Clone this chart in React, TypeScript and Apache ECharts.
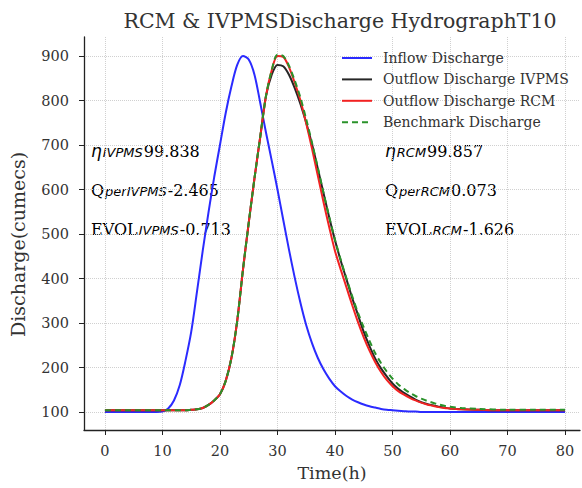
import React, { useEffect, useRef } from "react";
import * as echarts from "echarts";

const time = [
  0, 1, 2, 3, 4, 5, 6, 7, 8, 9,
  10, 11, 12, 13, 14, 15, 16, 17, 18, 19,
  20, 21, 22, 23, 24, 25, 26, 27, 28, 29,
  30, 31, 32, 33, 34, 35, 36, 37, 38, 39,
  40, 41, 42, 43, 44, 45, 46, 47, 48, 49,
  50, 51, 52, 53, 54, 55, 56, 57, 58, 59,
  60, 62, 65, 70, 75, 80,
];

const inflow = [
  100, 100, 100, 100, 100, 100, 100, 100, 100, 100,
  101, 108, 126, 160, 215, 280, 370, 462, 548, 628,
  700, 772, 832, 880, 900, 892, 858, 795, 728, 665,
  600, 532, 465, 402, 345, 295, 255, 222, 196, 175,
  158, 146, 136, 128, 122, 117, 113, 110, 107, 105,
  104, 103, 102, 101, 101, 100, 100, 100, 100, 100,
  100, 100, 100, 100, 100, 100,
];

const outflowIVPMS = [
  104, 104, 104, 104, 104, 104, 104, 104, 104, 104,
  104, 104, 104, 104, 104, 105, 106, 109, 116, 126,
  140, 170, 222, 305, 420, 525, 625, 718, 810, 858,
  880, 877, 858, 828, 792, 750, 702, 648, 592, 537,
  486, 440, 398, 356, 318, 280, 248, 220, 198, 180,
  164, 152, 143, 135, 128, 122, 118, 115, 112, 110,
  108, 106, 105, 104, 104, 104,
];

const outflowRCM = [
  104, 104, 104, 104, 104, 104, 104, 104, 104, 104,
  104, 104, 104, 104, 104, 105, 106, 109, 116, 126,
  140, 170, 222, 305, 420, 525, 625, 718, 810, 868,
  900, 898, 875, 840, 800, 748, 692, 632, 572, 515,
  462, 420, 380, 340, 302, 268, 238, 212, 190, 172,
  158, 147, 139, 132, 126, 121, 117, 114, 111, 109,
  108, 106, 105, 104, 104, 104,
];

const benchmark = [
  104, 104, 104, 104, 104, 104, 104, 104, 104, 104,
  104, 104, 104, 104, 104, 105, 106, 109, 116, 126,
  140, 170, 222, 305, 420, 525, 625, 718, 810, 868,
  903, 900, 878, 845, 806, 758, 705, 650, 593, 538,
  487, 442, 400, 360, 323, 290, 260, 232, 210, 191,
  175, 162, 152, 143, 136, 130, 125, 121, 117, 114,
  112, 109, 107, 105, 105, 105,
];

const xTicks = [0, 10, 20, 30, 40, 50, 60, 70, 80];
const yTicks = [100, 200, 300, 400, 500, 600, 700, 800, 900];

const seriesNames = [
  "Inflow Discharge",
  "Outflow Discharge IVPMS",
  "Outflow Discharge RCM",
  "Benchmark Discharge",
];

const ivpmsStats = { eta: "99.838", qper: "-2.465", evol: "-0.713" };
const rcmStats = { eta: "99.857", qper: "0.073", evol: "-1.626" };

const SERIF = "DejaVu Serif";
const TXT = "#333";

function pairs(vals: number[]) {
  return time.map((t, i) => [t, vals[i]]);
}

const rich = {
  m: { fontFamily: SERIF, fontSize: 16, color: TXT, lineHeight: 20, verticalAlign: "bottom" },
  g: { fontFamily: "DejaVu Sans", fontStyle: "italic", fontSize: 17, color: TXT, lineHeight: 20, verticalAlign: "bottom" },
  s: { fontFamily: "DejaVu Sans", fontStyle: "italic", fontSize: 13, color: TXT, lineHeight: 12, verticalAlign: "bottom", padding: [0, 1, 0, 1] },
};

function statText(x: number, y: number, str: string) {
  return {
    type: "text",
    x,
    y,
    style: { text: str, rich, verticalAlign: "middle", align: "left" },
  };
}

export default function App() {
  const ref = useRef<HTMLDivElement>(null);
  useEffect(() => {
    document.body.style.margin = "0";
    const chart = echarts.init(ref.current!, null, { renderer: "svg" });
    const lineCommon = {
      type: "line",
      symbol: "none",
      showSymbol: false,
      smooth: 0.3,
    };
    chart.setOption({
      animation: false,
      backgroundColor: "#ffffff",
      title: {
        text: "RCM & IVPMSDischarge HydrographT10",
        left: 335,
        top: 5,
        textAlign: "center",
        textStyle: { fontFamily: SERIF, fontSize: 20.5, fontWeight: "normal", color: TXT },
      },
      legend: {
        orient: "vertical",
        left: 336,
        top: 46,
        itemWidth: 30,
        itemHeight: 14,
        itemGap: 7.4,
        data: seriesNames,
        itemStyle: { opacity: 0 },
        textStyle: { fontFamily: SERIF, fontSize: 14, color: TXT, padding: [0, 0, 0, 6] },
      },
      grid: { left: 83, top: 37, width: 497, height: 393 },
      xAxis: {
        type: "value",
        min: -3.64,
        max: 82.6,
        name: "Time(h)",
        nameLocation: "middle",
        nameGap: 34,
        nameTextStyle: { fontFamily: SERIF, fontSize: 17.5, color: TXT },
        axisLine: { show: true, onZero: false, lineStyle: { color: "#222", width: 1.3 } },
        axisTick: { show: true, customValues: xTicks, length: 5, lineStyle: { color: "#222" } },
        axisLabel: { customValues: xTicks, fontFamily: SERIF, fontSize: 14.5, color: TXT, margin: 13 },
        splitLine: { show: true, lineStyle: { type: "dotted", color: "#d0d0d0", width: 1 } },
      },
      yAxis: {
        type: "value",
        min: 59.6,
        max: 942.7,
        name: "Discharge(cumecs)",
        nameLocation: "middle",
        nameGap: 57,
        nameTextStyle: { fontFamily: SERIF, fontSize: 19, color: TXT, padding: [0, 22, 0, 0] },
        axisLine: { show: true, onZero: false, lineStyle: { color: "#222", width: 1.3 } },
        axisTick: { show: true, customValues: yTicks, length: 5, lineStyle: { color: "#222" } },
        axisLabel: { customValues: yTicks, fontFamily: SERIF, fontSize: 14.5, color: TXT, margin: 15 },
        splitLine: { show: true, lineStyle: { type: "dotted", color: "#d0d0d0", width: 1 } },
      },
      graphic: [
        statText(91, 149, `{g|η}{s|IVPMS}{m|${ivpmsStats.eta}}`),
        statText(91, 188, `{m|Q}{s|perIVPMS}{m|${ivpmsStats.qper}}`),
        statText(91, 227, `{m|EVOL}{s|IVPMS}{m|${ivpmsStats.evol}}`),
        statText(385, 149, `{g|η}{s|RCM}{m|${rcmStats.eta}}`),
        statText(385, 188, `{m|Q}{s|perRCM}{m|${rcmStats.qper}}`),
        statText(385, 227, `{m|EVOL}{s|RCM}{m|${rcmStats.evol}}`),
      ],
      series: [
        {
          ...lineCommon,
          name: seriesNames[0],
          data: pairs(inflow),
          lineStyle: { color: "#2b2bff", width: 2 },
          itemStyle: { color: "#2b2bff" },
        },
        {
          ...lineCommon,
          name: seriesNames[1],
          data: pairs(outflowIVPMS),
          lineStyle: { color: "#262626", width: 2 },
          itemStyle: { color: "#262626" },
        },
        {
          ...lineCommon,
          name: seriesNames[2],
          data: pairs(outflowRCM),
          lineStyle: { color: "#f22222", width: 2 },
          itemStyle: { color: "#f22222" },
        },
        {
          ...lineCommon,
          name: seriesNames[3],
          data: pairs(benchmark),
          lineStyle: { color: "#2a922a", width: 2, type: [6, 4] },
          itemStyle: { color: "#2a922a" },
        },
      ],
    });
    return () => chart.dispose();
  }, []);
  return <div ref={ref} style={{ width: 582, height: 488 }} />;
}
